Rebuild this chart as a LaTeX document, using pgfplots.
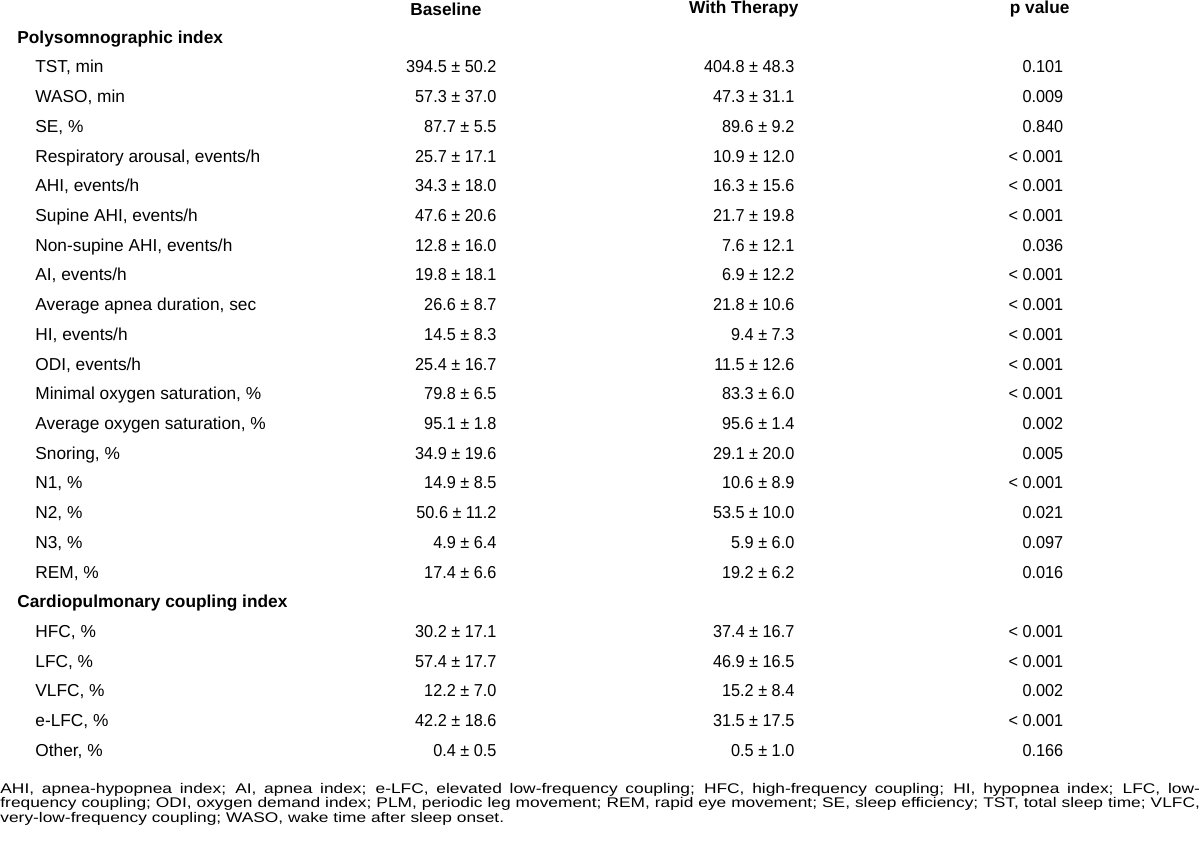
\documentclass[border=0pt]{standalone}
\usepackage{pgfplots}
\usepackage{pgfplotstable}
\pgfplotsset{compat=1.18}
\usepackage{fontspec}
\setmainfont{Liberation Sans}
\newfontfamily\numfont[FakeStretch=0.94]{Liberation Sans}
\newfontfamily\notefont[FakeStretch=1.24]{Liberation Sans}

% rows of the table (y in pixels from the top)
\pgfplotstableread[col sep=semicolon]{
row;label;base;ther;p
67.7;TST, min;394.5 ± 50.2;404.8 ± 48.3;0.101
97.4;WASO, min;57.3 ± 37.0;47.3 ± 31.1;0.009
127.2;SE, \%;87.7 ± 5.5;89.6 ± 9.2;0.840
156.9;Respiratory arousal, events/h;25.7 ± 17.1;10.9 ± 12.0;< 0.001
186.6;AHI, events/h;34.3 ± 18.0;16.3 ± 15.6;< 0.001
216.3;Supine AHI, events/h;47.6 ± 20.6;21.7 ± 19.8;< 0.001
246.0;Non-supine AHI, events/h;12.8 ± 16.0;7.6 ± 12.1;0.036
275.8;AI, events/h;19.8 ± 18.1;6.9 ± 12.2;< 0.001
305.5;Average apnea duration, sec;26.6 ± 8.7;21.8 ± 10.6;< 0.001
335.2;HI, events/h;14.5 ± 8.3;9.4 ± 7.3;< 0.001
364.9;ODI, events/h;25.4 ± 16.7;11.5 ± 12.6;< 0.001
394.6;Minimal oxygen saturation, \%;79.8 ± 6.5;83.3 ± 6.0;< 0.001
424.4;Average oxygen saturation, \%;95.1 ± 1.8;95.6 ± 1.4;0.002
454.1;Snoring, \%;34.9 ± 19.6;29.1 ± 20.0;0.005
483.8;N1, \%;14.9 ± 8.5;10.6 ± 8.9;< 0.001
513.5;N2, \%;50.6 ± 11.2;53.5 ± 10.0;0.021
543.2;N3, \%;4.9 ± 6.4;5.9 ± 6.0;0.097
573.0;REM, \%;17.4 ± 6.6;19.2 ± 6.2;0.016
632.4;HFC, \%;30.2 ± 17.1;37.4 ± 16.7;< 0.001
662.1;LFC, \%;57.4 ± 17.7;46.9 ± 16.5;< 0.001
691.8;VLFC, \%;12.2 ± 7.0;15.2 ± 8.4;0.002
721.6;e-LFC, \%;42.2 ± 18.6;31.5 ± 17.5;< 0.001
751.3;Other, \%;0.4 ± 0.5;0.5 ± 1.0;0.166
}\rows

\pgfplotstableread[col sep=semicolon]{
row;label
38.0;Polysomnographic index
602.7;Cardiopulmonary coupling index
}\sections

\pgfplotsset{
  cell/.style={only marks, mark=*, mark size=0pt,
    mark options={draw=none, fill=none},
    point meta=explicit symbolic,
    nodes near coords={\pgfplotspointmeta},
    nodes near coords style={anchor=#1, inner sep=0pt,
      font=\fontsize{8.65}{10}\selectfont}},
  num/.style={cell=mid east,
    nodes near coords style={font=\numfont\fontsize{8.65}{10}\selectfont}},
}

\begin{document}
\begin{tikzpicture}
\begin{axis}[
  x=0.5pt, y=0.5pt,
  xmin=0, xmax=1200, ymin=0, ymax=858,
  y dir=reverse,
  hide axis,
  clip=false,
]
\path (axis cs:0,0) rectangle (axis cs:1200,858);

% column heads
\path[font=\fontsize{8.65}{10}\selectfont\bfseries, inner sep=0pt]
  (axis cs:446,9) node {Baseline}
  (axis cs:744,9) node {With Therapy}
  (axis cs:1040,9) node {p value};

\addplot[cell=mid west, nodes near coords style={font=\fontsize{8.65}{10}\selectfont\bfseries}]
  table[x expr=17, y=row, meta=label] {\sections};
\addplot[cell=mid west] table[x expr=35, y=row, meta=label] {\rows};
\addplot[num] table[x expr=497, y=row, meta=base] {\rows};
\addplot[num] table[x expr=795, y=row, meta=ther] {\rows};
\addplot[num] table[x expr=1064, y=row, meta=p] {\rows};

% footnote
\node[anchor=north west, inner sep=0pt, text width=600pt, align=justify,
  font=\notefont\fontsize{7}{7.25}\selectfont] at (axis cs:0,783)
  {AHI, apnea-hypopnea index; AI, apnea index; e-LFC, elevated low-frequency coupling; HFC, high-frequency coupling; HI, hypopnea index; LFC, low-\linebreak frequency coupling; ODI, oxygen demand index; PLM, periodic leg movement; REM, rapid eye movement; SE, sleep efficiency; TST, total sleep time; VLFC,\linebreak very-low-frequency coupling; WASO, wake time after sleep onset.};
\end{axis}
\end{tikzpicture}
\end{document}
